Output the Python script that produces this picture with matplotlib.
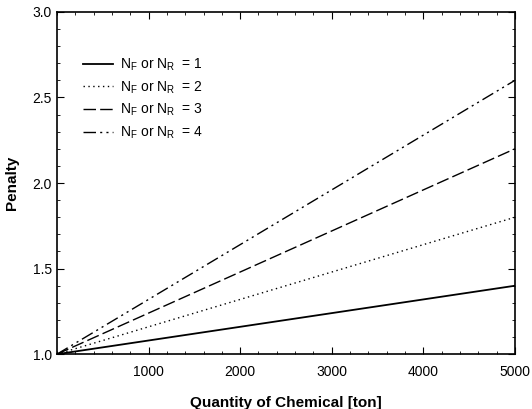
import matplotlib
matplotlib.use("Agg")
import matplotlib.pyplot as plt
from matplotlib.ticker import MultipleLocator

plt.rcParams['font.family'] = ['Liberation Sans', 'DejaVu Sans']
plt.rcParams['mathtext.fontset'] = 'custom'
plt.rcParams['mathtext.rm'] = 'Liberation Sans'
plt.rcParams['mathtext.it'] = 'Liberation Sans'

quantity = [0, 5000]
n_values = [1, 2, 3, 4]
penalty_n1 = [1.0, 1.4]
penalty_n2 = [1.0, 1.8]
penalty_n3 = [1.0, 2.2]
penalty_n4 = [1.0, 2.6]
labels = [r"N$_\mathrm{F}$ or N$_\mathrm{R}$  = %d" % n for n in n_values]

fig = plt.figure(figsize=(5.32, 4.09), dpi=100)
ax = fig.add_axes([0.107, 0.134, 0.861, 0.837])

styles = [
    dict(linestyle='-', linewidth=1.3),
    dict(linestyle=(0, (1, 2.5)), linewidth=1.0),
    dict(linestyle=(0, (9, 3)), linewidth=1.0),
    dict(linestyle=(0, (9, 3, 1.5, 3, 1.5, 3)), linewidth=1.0),
]
for pen, lab, st in zip([penalty_n1, penalty_n2, penalty_n3, penalty_n4], labels, styles):
    ax.plot(quantity, pen, color='black', label=lab, **st)

ax.set_xlim(0, 5000)
ax.set_ylim(1.0, 3.0)
ax.set_xticks([1000, 2000, 3000, 4000, 5000])
ax.set_yticks([1.0, 1.5, 2.0, 2.5, 3.0])
ax.set_yticklabels(['1.0', '1.5', '2.0', '2.5', '3.0'])
ax.xaxis.set_minor_locator(MultipleLocator(200))
ax.yaxis.set_minor_locator(MultipleLocator(0.1))
ax.tick_params(which='both', direction='in', top=True, right=True, labelsize=10)
ax.tick_params(which='major', length=5)
ax.tick_params(which='minor', length=2.5)
ax.tick_params(axis='x', pad=8)
for s in ax.spines.values():
    s.set_linewidth(1.2)

ax.set_xlabel('Quantity of Chemical [ton]', fontsize=11, fontweight='bold', labelpad=12)
ax.set_ylabel('Penalty', fontsize=11, fontweight='bold', labelpad=10)

ax.legend(loc='upper left', bbox_to_anchor=(70 / 532, 1 - 44 / 409), bbox_transform=fig.transFigure,
          frameon=False, fontsize=10, handlelength=2.2, handletextpad=0.5, labelspacing=0.45)

fig.savefig('out.png', dpi=100)
